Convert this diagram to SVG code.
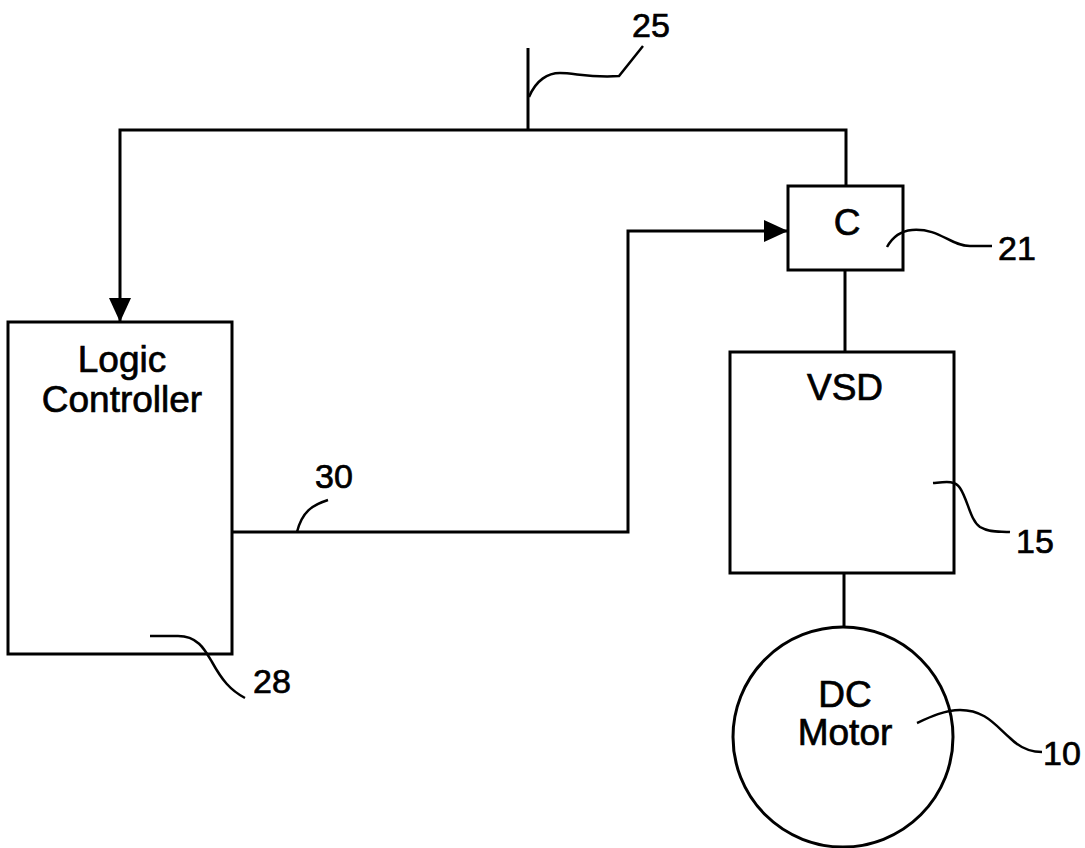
<svg xmlns="http://www.w3.org/2000/svg" width="1085" height="848" viewBox="0 0 1085 848">
<style>
.box{fill:#fff;stroke:#000;stroke-width:3}
.ln{fill:none;stroke:#000;stroke-width:3}
.ld{fill:none;stroke:#000;stroke-width:2.5}
.t{font-family:"Liberation Sans",Arial,sans-serif;font-size:37px;fill:#000;stroke:#000;stroke-width:0.7;text-anchor:middle}
.n{font-family:"Liberation Sans",Arial,sans-serif;font-size:34px;fill:#000;stroke:#000;stroke-width:0.7;text-anchor:middle}
</style>
<defs>
<marker id="ah" markerWidth="24" markerHeight="24" viewBox="0 0 24 24" refX="24" refY="12" orient="auto" markerUnits="userSpaceOnUse">
<path d="M0,1 L24,12 L0,23 Z" fill="#000"/>
</marker>
</defs>
<rect width="1085" height="848" fill="#fff"/>
<g id="connectors">
<line class="ln" x1="528" y1="48" x2="528" y2="130"/>
<path class="ln" d="M846,187 V130 H120 V322" marker-end="url(#ah)"/>
<path class="ln" d="M232,532 H628 V231 H788" marker-end="url(#ah)"/>
<line class="ln" x1="845" y1="270" x2="845" y2="352"/>
<line class="ln" x1="844" y1="573" x2="844" y2="628"/>
</g>
<g id="node-logic">
<rect class="box" x="8" y="322" width="224" height="332"/>
<text class="t" x="122" y="372">Logic</text>
<text class="t" x="122" y="412">Controller</text>
</g>
<g id="node-c">
<rect class="box" x="788" y="186" width="115" height="84"/>
<text class="t" x="847" y="235">C</text>
</g>
<g id="node-vsd">
<rect class="box" x="730" y="352" width="224" height="221"/>
<text class="t" x="845" y="400">VSD</text>
</g>
<g id="node-motor">
<circle class="box" cx="843" cy="737" r="110"/>
<text class="t" x="845" y="707">DC</text>
<text class="t" x="845" y="745">Motor</text>
</g>
<g id="labels">
<path class="ld" d="M529,97 C536,80 548,73 560,73 C575,73 590,78 619,76 L643,46"/>
<text class="n" x="651" y="37">25</text>
<path class="ld" d="M887,247 C892,238 900,231 912,230 C940,228 950,246 970,246 L992,246"/>
<text class="n" x="1017" y="260">21</text>
<path class="ld" d="M933,483 C945,482 955,480 960,488 C968,500 970,520 980,527 C990,533 1000,531 1010,532"/>
<text class="n" x="1035" y="553">15</text>
<path class="ld" d="M917,723 C930,717 945,710 960,710 C985,710 995,725 1010,738 C1020,748 1030,752 1042,752"/>
<text class="n" x="1062" y="765">10</text>
<path class="ld" d="M297,532 C302,512 312,505 328,500"/>
<text class="n" x="334" y="488">30</text>
<path class="ld" d="M150,636 L178,636 C198,636 205,650 212,662 C222,680 230,690 245,698"/>
<text class="n" x="272" y="693">28</text>
</g>
</svg>
